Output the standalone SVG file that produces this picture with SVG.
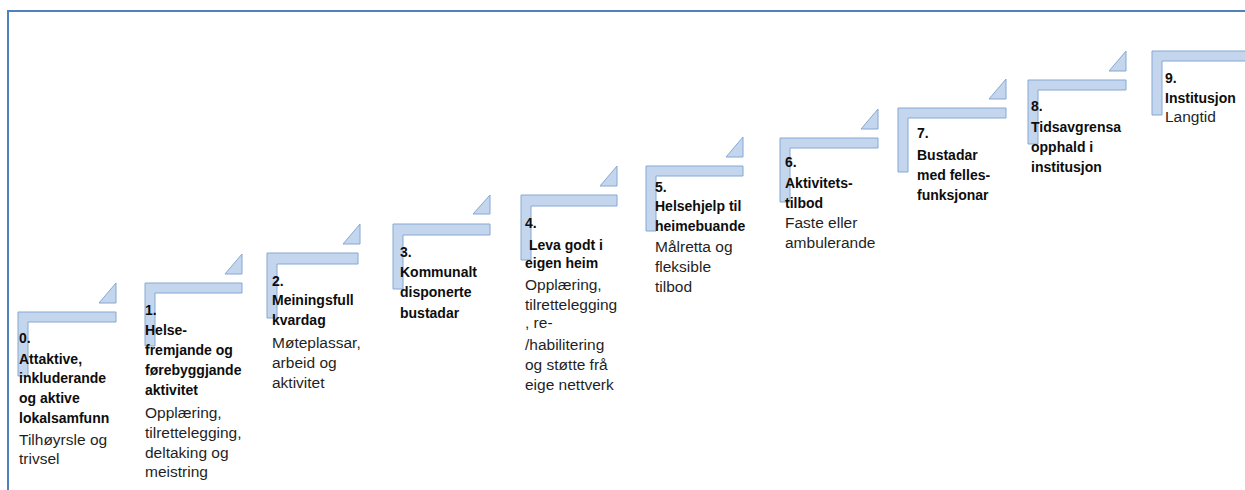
<svg xmlns="http://www.w3.org/2000/svg" width="1245" height="490" viewBox="0 0 1245 490">
<style>
.step{fill:#c4d6ed;stroke:#86a8d3;stroke-width:1}
.b{font-family:"Liberation Sans",Arial,sans-serif;font-size:14px;font-weight:bold;fill:#0d0d0d}
.r{font-family:"Liberation Sans",Arial,sans-serif;font-size:15.5px;fill:#1f1f1f}
.frame{fill:none;stroke:#4f81bd;stroke-width:2}
</style>
<rect width="1245" height="490" fill="#ffffff"/>
<g id="frame"><path class="frame" d="M8,492 V11 H1247"/></g>
<g id="connectors"></g>

<g id="step0">
<path class="step" d="M18,312 H116 V322 H28 V376 H18 Z"/>
<path class="step" d="M116,283 V303 H99 Z"/>
<text class="b" x="19" y="343">0.</text>
<text class="b" x="19" y="364">Attaktive,</text>
<text class="b" x="19" y="383">inkluderande</text>
<text class="b" x="19" y="403">og aktive</text>
<text class="b" x="19" y="423">lokalsamfunn</text>
<text class="r" x="19" y="445">Tilhøyrsle og</text>
<text class="r" x="19" y="464">trivsel</text>
</g>

<g id="step1">
<path class="step" d="M145,283 H242 V293 H155 V346 H145 Z"/>
<path class="step" d="M242,254 V274 H225 Z"/>
<text class="b" x="145" y="315">1.</text>
<text class="b" x="145" y="335">Helse-</text>
<text class="b" x="145" y="355">fremjande og</text>
<text class="b" x="145" y="375">førebyggjande</text>
<text class="b" x="145" y="395">aktivitet</text>
<text class="r" x="145" y="418">Opplæring,</text>
<text class="r" x="145" y="438">tilrettelegging,</text>
<text class="r" x="145" y="458">deltaking og</text>
<text class="r" x="145" y="477">meistring</text>
</g>

<g id="step2">
<path class="step" d="M267,253 H358 V264 H277 V318 H267 Z"/>
<path class="step" d="M360,224 V244 H343 Z"/>
<text class="b" x="272" y="286">2.</text>
<text class="b" x="272" y="305">Meiningsfull</text>
<text class="b" x="272" y="325">kvardag</text>
<text class="r" x="272" y="348">Møteplassar,</text>
<text class="r" x="272" y="368">arbeid og</text>
<text class="r" x="272" y="388">aktivitet</text>
</g>

<g id="step3">
<path class="step" d="M393,224 H490 V235 H403 V289 H393 Z"/>
<path class="step" d="M490,195 V214 H473 Z"/>
<text class="b" x="400" y="257">3.</text>
<text class="b" x="400" y="277">Kommunalt</text>
<text class="b" x="400" y="297">disponerte</text>
<text class="b" x="400" y="318">bustadar</text>
</g>

<g id="step4">
<path class="step" d="M521,195 H617 V206 H531 V260 H521 Z"/>
<path class="step" d="M617,166 V186 H600 Z"/>
<text class="b" x="525" y="228">4.</text>
<text class="b" x="529" y="250">Leva godt i</text>
<text class="b" x="525" y="268">eigen heim</text>
<text class="r" x="525" y="290">Opplæring,</text>
<text class="r" x="525" y="310">tilrettelegging</text>
<text class="r" x="525" y="328">, re-</text>
<text class="r" x="525" y="350">/habilitering</text>
<text class="r" x="525" y="370">og støtte frå</text>
<text class="r" x="525" y="390">eige nettverk</text>
</g>

<g id="step5">
<path class="step" d="M646,166 H743 V176 H656 V231 H646 Z"/>
<path class="step" d="M743,137 V157 H726 Z"/>
<text class="b" x="655" y="192">5.</text>
<text class="b" x="655" y="211">Helsehjelp til</text>
<text class="b" x="655" y="231">heimebuande</text>
<text class="r" x="655" y="252">Målretta og</text>
<text class="r" x="655" y="272">fleksible</text>
<text class="r" x="655" y="292">tilbod</text>
</g>

<g id="step6">
<path class="step" d="M780,138 H878 V148 H790 V202 H780 Z"/>
<path class="step" d="M878,109 V129 H861 Z"/>
<text class="b" x="785" y="167">6.</text>
<text class="b" x="785" y="188">Aktivitets-</text>
<text class="b" x="785" y="208">tilbod</text>
<text class="r" x="785" y="228">Faste eller</text>
<text class="r" x="785" y="248">ambulerande</text>
</g>

<g id="step7">
<path class="step" d="M898,108 H1006 V118 H908 V172 H898 Z"/>
<path class="step" d="M1006,79 V99 H989 Z"/>
<text class="b" x="917" y="138">7.</text>
<text class="b" x="917" y="160">Bustadar</text>
<text class="b" x="917" y="180">med felles-</text>
<text class="b" x="917" y="200">funksjonar</text>
</g>

<g id="step8">
<path class="step" d="M1028,80 H1126 V90 H1038 V144 H1028 Z"/>
<path class="step" d="M1126,51 V71 H1109 Z"/>
<text class="b" x="1031" y="111">8.</text>
<text class="b" x="1031" y="132">Tidsavgrensa</text>
<text class="b" x="1031" y="152">opphald i</text>
<text class="b" x="1031" y="172">institusjon</text>
</g>

<g id="step9">
<path class="step" d="M1152,51 H1252 V61 H1162 V115 H1152 Z"/>
<text class="b" x="1165" y="83">9.</text>
<text class="b" x="1165" y="103">Institusjon</text>
<text class="r" x="1165" y="122">Langtid</text>
</g>
</svg>
